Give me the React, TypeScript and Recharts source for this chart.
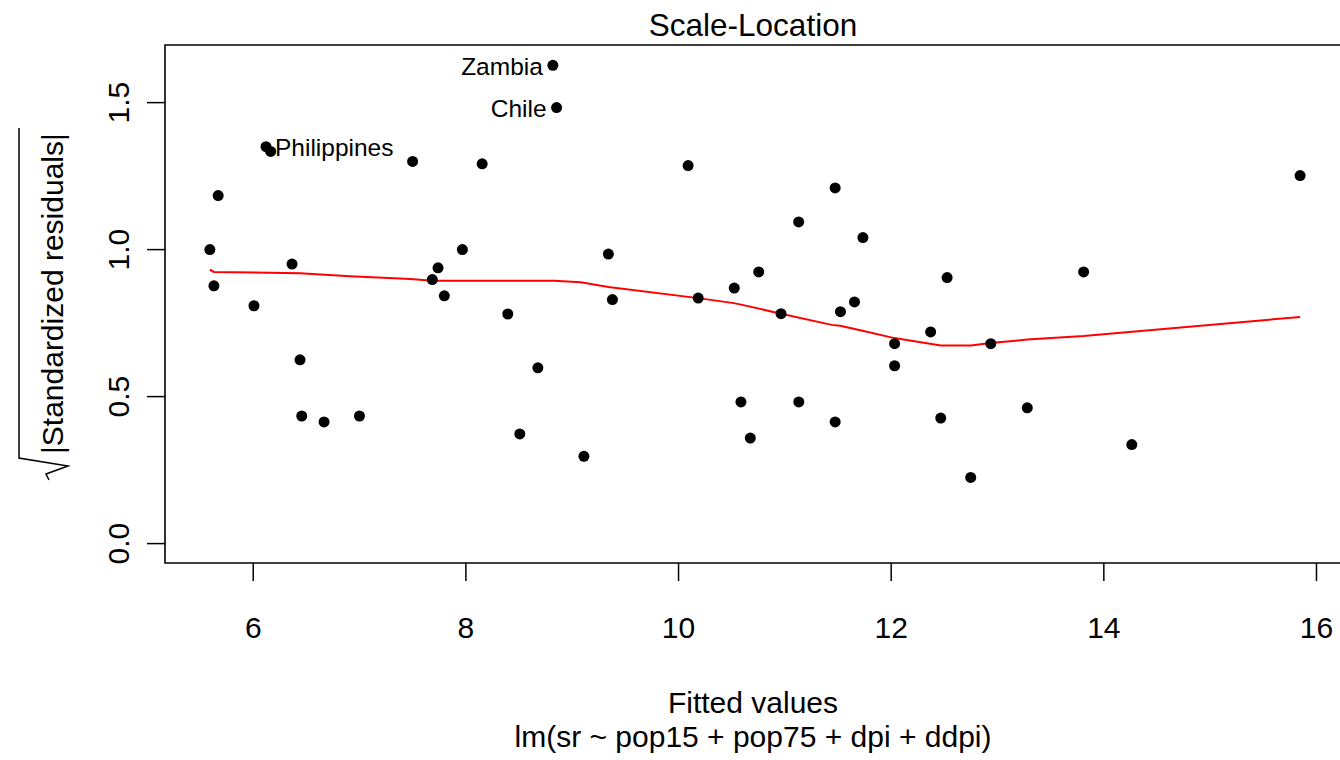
import React from 'react';
import { ComposedChart, Scatter, Line, XAxis, YAxis, ReferenceArea } from 'recharts';

// fitted values and sqrt(|standardized residuals|), one entry per country
const fittedValues = [
  5.592, 5.63, 5.67, 6.007, 6.12, 6.164, 6.365, 6.44, 6.456, 6.666,
  6.999, 7.499, 7.684, 7.738, 7.797, 7.967, 8.153, 8.394, 8.507, 8.677,
  8.818, 8.853, 9.11, 9.34, 9.378, 10.09, 10.185, 10.524, 10.587, 10.675,
  10.754, 10.964, 11.13, 11.131, 11.473, 11.473, 11.523, 11.655, 11.734, 12.032,
  12.032, 12.371, 12.466, 12.526, 12.748, 12.937, 13.28, 13.81, 14.263, 15.846,
];
const sqrtStdResiduals = [
  1.0, 0.877, 1.184, 0.809, 1.35, 1.334, 0.951, 0.625, 0.434, 0.414,
  0.434, 1.3, 0.898, 0.938, 0.843, 1.0, 1.292, 0.781, 0.373, 0.598,
  1.627, 1.483, 0.297, 0.985, 0.83, 1.286, 0.835, 0.869, 0.482, 0.359,
  0.924, 0.782, 1.094, 0.482, 1.21, 0.414, 0.789, 0.822, 1.041, 0.68,
  0.605, 0.72, 0.427, 0.905, 0.225, 0.68, 0.462, 0.924, 0.337, 1.252,
];
// the three most extreme points get their names printed
const pointIds: Record<number, string> = { 4: 'Philippines', 20: 'Zambia', 21: 'Chile' };
const idsOnLeft = ['Zambia', 'Chile'];

// lowess smoother through the points
const smoothFitted = [
  5.592, 5.63, 6.44, 6.91, 7.48, 7.68, 8.83, 9.08, 9.34, 10.185, 10.52, 10.6,
  10.964, 11.44, 11.52, 11.72, 12.03, 12.466, 12.748, 12.937, 13.28, 13.81, 15.846,
];
const smoothResiduals = [
  0.932, 0.924, 0.92, 0.909, 0.9, 0.894, 0.894, 0.889, 0.873, 0.835, 0.818, 0.812,
  0.782, 0.744, 0.741, 0.725, 0.699, 0.674, 0.674, 0.682, 0.694, 0.706, 0.771,
];

const xTicks = [6, 8, 10, 12, 14, 16];
const yTicks = [0, 0.5, 1, 1.5];

const xDomain: [number, number] = [5.17, 16.24];
const yDomain: [number, number] = [-0.066, 1.696];

const points = fittedValues.map((x, i) => ({ x, y: sqrtStdResiduals[i], id: pointIds[i] ?? '' }));
const smooth = smoothFitted.map((x, i) => ({ x, y: smoothResiduals[i] }));

const FONT = '"Liberation Sans", Arial, Helvetica, sans-serif';

const PointShape = (props: any) => {
  const { cx, cy, payload } = props;
  const left = idsOnLeft.includes(payload.id);
  return (
    <g>
      <circle cx={cx} cy={cy} r={5.5} fill="#000" />
      {payload.id ? (
        <text
          x={left ? cx - 10 : cx + 9}
          y={cy + 9.5}
          textAnchor={left ? 'end' : 'start'}
          fontSize={24.5}
          fontFamily={FONT}
          fill="#000"
        >
          {payload.id}
        </text>
      ) : null}
    </g>
  );
};

const XTick = ({ x, y, payload }: any) => (
  <text x={x} y={y + 55} textAnchor="middle" fontSize={30} fontFamily={FONT} fill="#000">
    {payload.value}
  </text>
);

const YTick = ({ x, y, payload }: any) => {
  const tx = x - 16;
  return (
    <text
      x={tx}
      y={y}
      transform={`rotate(-90 ${tx} ${y})`}
      textAnchor="middle"
      fontSize={30}
      fontFamily={FONT}
      fill="#000"
    >
      {payload.value.toFixed(1)}
    </text>
  );
};

export default function App() {
  return (
    <div
      style={{
        position: 'absolute',
        left: 0,
        top: 0,
        width: 1340,
        height: 760,
        overflow: 'hidden',
        background: '#fff',
      }}
    >
      <ComposedChart width={1343} height={760} margin={{ top: 45, right: 1, bottom: 0, left: 0 }}>
        <XAxis
          type="number"
          dataKey="x"
          domain={xDomain}
          ticks={xTicks}
          interval={0}
          allowDataOverflow
          height={197}
          tickSize={18}
          tickLine={{ stroke: '#000', strokeWidth: 1.5 }}
          axisLine={false}
          tick={XTick}
        />
        <YAxis
          type="number"
          dataKey="y"
          domain={yDomain}
          ticks={yTicks}
          interval={0}
          allowDataOverflow
          width={165}
          tickSize={18}
          tickLine={{ stroke: '#000', strokeWidth: 1.5 }}
          axisLine={false}
          tick={YTick}
        />
        <ReferenceArea
          x1={xDomain[0]}
          x2={xDomain[1]}
          y1={yDomain[0]}
          y2={yDomain[1]}
          fill="none"
          fillOpacity={0}
          stroke="#000"
          strokeWidth={1.6}
          strokeOpacity={1}
        />
        <Scatter data={points} shape={PointShape} isAnimationActive={false} />
        <Line
          data={smooth}
          dataKey="y"
          type="linear"
          stroke="#ff0000"
          strokeWidth={2}
          dot={false}
          activeDot={false}
          isAnimationActive={false}
        />
        <text x={753} y={36} textAnchor="middle" fontSize={31.5} fontFamily={FONT} fill="#000">
          Scale-Location
        </text>
        <text x={753} y={713} textAnchor="middle" fontSize={30} fontFamily={FONT} fill="#000">
          Fitted values
        </text>
        <text x={753} y={747} textAnchor="middle" fontSize={30} fontFamily={FONT} fill="#000">
          lm(sr ~ pop15 + pop75 + dpi + ddpi)
        </text>
        <g transform="translate(63 304) rotate(-90)">
          <path
            d="M -176 -14 L -170 -17 L -162 5 L -154 -44 L 176 -44"
            fill="none"
            stroke="#000"
            strokeWidth={1.5}
          />
          <text x={-150} y={0} fontSize={30} fontFamily={FONT} fill="#000">
            |Standardized residuals|
          </text>
        </g>
      </ComposedChart>
    </div>
  );
}
